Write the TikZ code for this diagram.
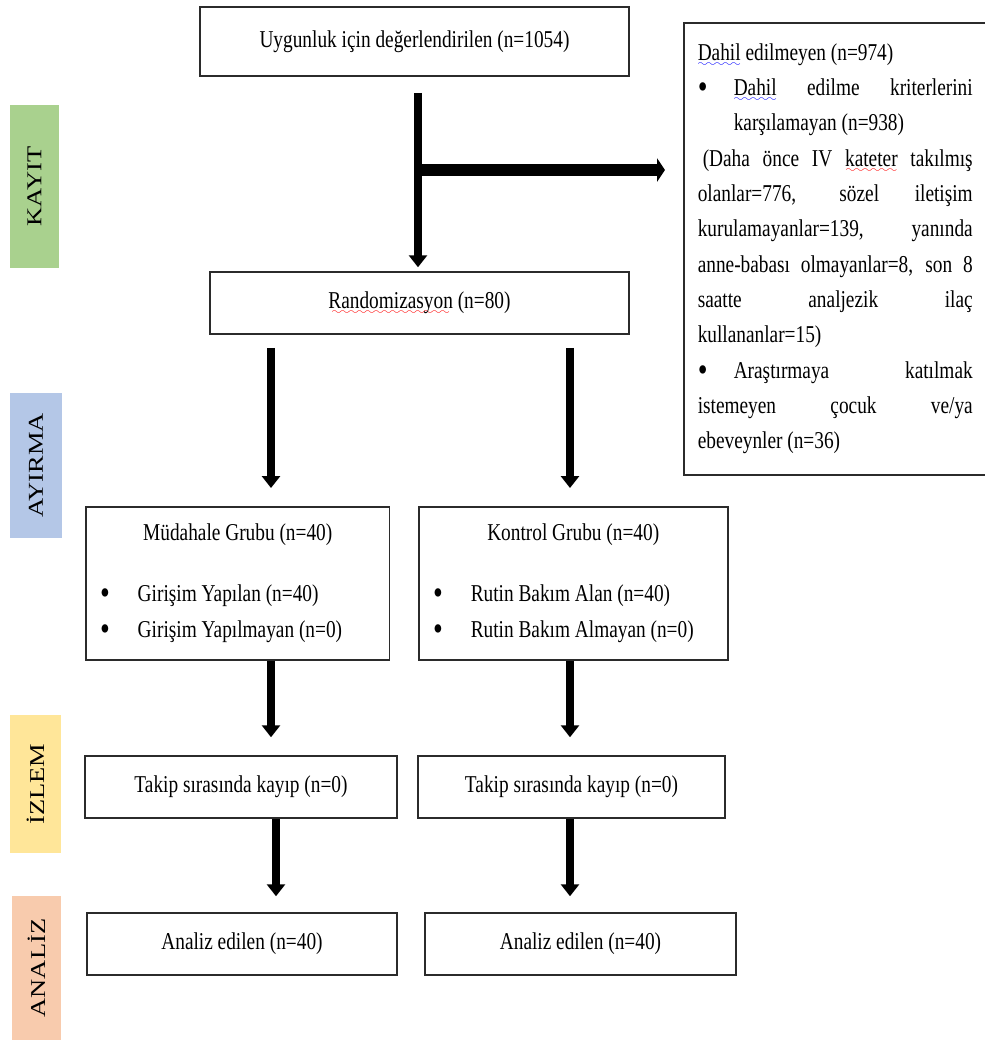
\documentclass[tikz,border=0pt]{standalone}
\usepackage{fontspec}
\setmainfont{Liberation Serif}[FakeStretch=0.8]
\newfontfamily\sidefont{Liberation Serif}[FakeStretch=1.25]
\usetikzlibrary{arrows.meta,positioning,calc}
\definecolor{kayitgreen}{HTML}{A9D18E}
\definecolor{ayirmablue}{HTML}{B4C7E7}
\definecolor{izlemyellow}{HTML}{FFE699}
\definecolor{analizorange}{HTML}{F8CBAD}
\definecolor{boxline}{HTML}{2B2B2B}
\font\wavefont=lasy6
\newcommand\wavemark[2]{\setbox0\hbox{#2}\rlap{\textcolor{#1}{\lower3.5pt\hbox to\wd0{\cleaders\hbox{\wavefont\char58}\hfil}}}\box0\relax}
\newcommand\redwave[1]{\wavemark{red}{#1}}
\newcommand\bluewave[1]{\wavemark{blue}{#1}}
\newcommand\bigdot{\raisebox{-1.8pt}{\fontsize{21}{21}\selectfont •}}
\newcommand\bulletrow[1]{\hspace*{2.6pt}\makebox[22.6pt][l]{\bigdot}#1}

\begin{document}
\begin{tikzpicture}[x=0.6pt,y=-0.6pt,
  every node/.style={font=\fontsize{14.5}{21.2}\selectfont},
  flowbox/.style={draw=boxline,line width=0.9pt,inner sep=0pt,align=center},
  phase/.style={inner sep=0pt,rotate=90,font=\sidefont\fontsize{12.7}{14}\selectfont},
  varr/.style={line width=4.8pt,-{Triangle[width=10.8pt,length=7.2pt]}},
  harr/.style={line width=7pt,-{Triangle[width=14pt,length=4.8pt]}}]
\useasboundingbox (0,0) rectangle (985,1040);
% phase bars on the left
\node[phase,fill=kayitgreen,minimum width=97.8pt,minimum height=29.4pt] (kayit) at (34.5,186.5) {KAYIT};
\node[phase,fill=ayirmablue,minimum width=87pt,minimum height=31.2pt] (ayirma) at (36,465.5) {AYIRMA};
\node[phase,fill=izlemyellow,minimum width=82.8pt,minimum height=30.6pt] (izlem) at (35.5,784) {İZLEM};
\node[phase,fill=analizorange,minimum width=86.4pt,minimum height=29.4pt] (analiz) at (36.5,968) {ANALİZ};
% boxes
\node[flowbox,minimum width=257.4pt,minimum height=41.4pt] (elig) at (414.5,41.5) {Uygunluk için değerlendirilen (n=1054)};
\node[flowbox,minimum width=251.4pt,minimum height=37.2pt] (rand) at (419.5,303) {\redwave{Randomizasyon} (n=80)};
\node[flowbox,anchor=north west,minimum width=181.8pt,minimum height=271.2pt,text width=165pt,inner xsep=8.4pt,align=justify] (excl) at (683,22) {%
  \parindent=0pt\hyphenpenalty=10000\exhyphenpenalty=10000
  \bluewave{Dahil} edilmeyen (n=974)\par
  \hangindent=21.6pt\hangafter=1\makebox[21.6pt][l]{\bigdot}\bluewave{Dahil} edilme kriterlerini\linebreak karşılamayan (n=938)\par
  \hspace*{3pt}(Daha önce IV \redwave{kateter} takılmış\linebreak olanlar=776, sözel iletişim\linebreak kurulamayanlar=139, yanında\linebreak anne-babası olmayanlar=8, son~8\linebreak saatte analjezik ilaç\linebreak kullananlar=15)\par
  \hangindent=21.6pt\hangafter=1\makebox[21.6pt][l]{\bigdot}Araştırmaya katılmak\linebreak istemeyen çocuk ve/ya\linebreak ebeveynler (n=36)};
\node[flowbox,anchor=north west,minimum width=182.4pt,minimum height=91.8pt,text width=170.4pt,inner xsep=6pt,align=left] (mud) at (85,506) {%
  \spaceskip=0pt\xspaceskip=0pt
  \makebox[170.4pt][c]{Müdahale Grubu (n=40)}\\[15.4pt]
  \bulletrow{Girişim Yapılan (n=40)}\\
  \bulletrow{Girişim Yapılmayan (n=0)}};
\node[flowbox,anchor=north west,minimum width=185.4pt,minimum height=91.8pt,text width=173.4pt,inner xsep=6pt,align=left] (kon) at (418,506) {%
  \spaceskip=0pt\xspaceskip=0pt
  \makebox[173.4pt][c]{Kontrol Grubu (n=40)}\\[15.4pt]
  \bulletrow{Rutin Bakım Alan (n=40)}\\
  \bulletrow{Rutin Bakım Almayan (n=0)}};
\node[flowbox,minimum width=187.2pt,minimum height=37.2pt] (takL) at (241,787) {Takip sırasında kayıp (n=0)};
\node[flowbox,minimum width=184.2pt,minimum height=37.2pt] (takR) at (571.5,787) {Takip sırasında kayıp (n=0)};
\node[flowbox,minimum width=186pt,minimum height=37.2pt] (anL) at (242,944) {Analiz edilen (n=40)};
\node[flowbox,minimum width=186.6pt,minimum height=37.2pt] (anR) at (580.5,944) {Analiz edilen (n=40)};
% arrows
\coordinate (jn) at (418,170);
\coordinate (colL) at (271,0);
\coordinate (colR) at (570,0);
\coordinate (colLL) at (276,0);
\draw[varr,shorten <=9.6pt,shorten >=2.4pt] (elig.south -| jn) -- (rand.north -| jn);
\draw[harr,shorten >=10.8pt] (jn) -- (excl.west |- jn);
\foreach \a/\b/\c in {rand/mud/colL,rand/kon/colR}
  \draw[varr,shorten <=7.8pt,shorten >=10.8pt] (\a.south -| \c) -- (\b.north -| \c);
\foreach \a/\b/\c in {mud/takL/colL,kon/takR/colR}
  \draw[varr,shorten >=10.8pt] (\a.south -| \c) -- (\b.north -| \c);
\foreach \a/\b/\c in {takL/anL/colLL,takR/anR/colR}
  \draw[varr,shorten >=9.6pt] (\a.south -| \c) -- (\b.north -| \c);
\end{tikzpicture}
\end{document}
